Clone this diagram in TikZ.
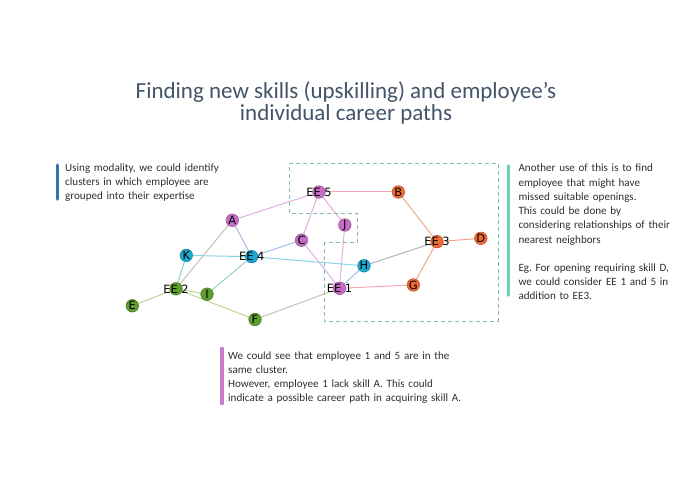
\documentclass[tikz,border=0pt]{standalone}
\usepackage{fontspec}
\setmainfont{Carlito}
\newfontfamily\dejavu{DejaVu Sans}
\usetikzlibrary{backgrounds}
\frenchspacing
\definecolor{cpur}{HTML}{C66CC6}
\definecolor{corg}{HTML}{F06A35}
\definecolor{cblu}{HTML}{1AA8D0}
\definecolor{cgrn}{HTML}{5E9E30}
\definecolor{epp}{HTML}{E0B0E0}
\definecolor{eoo}{HTML}{F5A888}
\definecolor{epo}{HTML}{F2AAB2}
\definecolor{ebb}{HTML}{88D4EA}
\definecolor{ebp}{HTML}{A4BCE4}
\definecolor{eob}{HTML}{B0B8B8}
\definecolor{egg}{HTML}{BCD894}
\definecolor{egb}{HTML}{94D0C4}
\definecolor{egp}{HTML}{CCC0B2}
\definecolor{titlec}{HTML}{44546A}
\definecolor{bodyc}{HTML}{303030}
\definecolor{dashc}{HTML}{7FBFB0}
\definecolor{barblue}{HTML}{2E75B6}
\definecolor{barteal}{HTML}{5FD8B0}
\definecolor{barpur}{HTML}{C87AC8}
\begin{document}
\begin{tikzpicture}[x=1pt,y=-1pt,
  vtx/.style={circle, minimum size=12.6pt, inner sep=0pt, line width=0.5pt},
  pur/.style={vtx, fill=cpur, draw=cpur!75!black},
  org/.style={vtx, fill=corg, draw=corg!75!black},
  blu/.style={vtx, fill=cblu, draw=cblu!75!black},
  grn/.style={vtx, fill=cgrn, draw=cgrn!75!black},
  lbl/.style={font=\dejavu\fontsize{11.4}{12}\selectfont, text=black, inner sep=0pt},
  edge/.style={line width=1pt},
  bodytext/.style={font=\fontsize{11.1}{14.2}\selectfont, text=bodyc, align=left, text width=200pt, inner sep=0pt, anchor=base west},
  bar/.style={line width=3.6pt, line cap=round},
  boxline/.style={draw=dashc, line width=1pt, dash pattern=on 4pt off 3pt}
]
\begin{pgfonlayer}{background}
\fill[white] (0,0) rectangle (695,494);
\end{pgfonlayer}
\useasboundingbox (0,0) rectangle (695,494);

% title
\node[font=\fontsize{23}{22.5}\selectfont, text=titlec, align=center] (title) at (346,103)
  {Finding new skills (upskilling) and employee’s\\individual career paths};

% text blocks and bars
\draw[bar, barblue] (57.5,165.2) -- (57.5,199);
\node[bodytext] (ltext) at (65,171.5)
  {Using modality, we could identify\\clusters in which employee are\\grouped into their expertise};

\draw[bar, barteal] (508.4,166) -- (508.4,295);
\node[bodytext] (rtext) at (518.3,172)
  {Another use of this is to find\\employee that might have\\missed suitable openings.\\This could be done by\\considering relationships of their\\nearest neighbors\\[14.2pt]Eg. For opening requiring skill D,\\we could consider EE 1 and 5 in\\addition to EE3.};

\draw[bar, barpur] (221.7,348.5) -- (221.7,403.5);
\node[bodytext, text width=280pt] (btext) at (228,359.3)
  {We could see that employee 1 and 5 are in the\\same cluster.\\However, employee 1 lack skill A. This could\\indicate a possible career path in acquiring skill A.};

% dashed cluster outline
\draw[boxline] (289,163.3) -- (498.3,163.3) -- (498.3,321) -- (324.6,321) -- (324.6,242.7)
  -- (357,242.7) -- (357,213.3) -- (289,213.3) -- cycle;

% nodes
\node[pur, label={[lbl]center:EE 5}] (ee5) at (319,192) {};
\node[org, label={[lbl]center:B}] (b) at (398.3,192) {};
\node[pur, label={[lbl]center:A}] (a) at (232.3,220.3) {};
\node[pur, label={[lbl]center:J}] (j) at (344.8,225) {};
\node[pur, label={[lbl]center:C}] (c) at (301.5,240.2) {};
\node[org, label={[lbl]center:EE 3}] (ee3) at (437,241.7) {};
\node[org, label={[lbl]center:D}] (d) at (480.8,238.3) {};
\node[blu, label={[lbl]center:K}] (k) at (186.3,255.4) {};
\node[blu, label={[lbl]center:EE 4}] (ee4) at (251.7,256.7) {};
\node[blu, label={[lbl]center:H}] (h) at (364,265.8) {};
\node[grn, label={[lbl]center:EE 2}] (ee2) at (176,288.8) {};
\node[grn, label={[lbl]center:I}] (i) at (207,294.2) {};
\node[pur, label={[lbl]center:EE 1}] (ee1) at (339.5,288.3) {};
\node[org, label={[lbl]center:G}] (g) at (413.3,285) {};
\node[grn, label={[lbl]center:E}] (e) at (132.3,305.8) {};
\node[grn, label={[lbl]center:F}] (f) at (255,319.5) {};

% edges
\begin{pgfonlayer}{background}
\draw[edge, epo] (ee5) -- (b);
\draw[edge, epp] (ee5) -- (a);
\draw[edge, epp] (ee5) -- (c);
\draw[edge, epp] (ee5) -- (j);
\draw[edge, eoo] (b) -- (ee3);
\draw[edge, eoo] (ee3) -- (d);
\draw[edge, eoo] (ee3) -- (g);
\draw[edge, eob] (ee3) -- (h);
\draw[edge, ebp] (h) -- (ee1);
\draw[edge, epo] (g) -- (ee1);
\draw[edge, epp] (j) -- (ee1);
\draw[edge, epp] (c) -- (ee1);
\draw[edge, ebp] (c) -- (ee4);
\draw[edge, ebp] (a) -- (ee4);
\draw[edge, egp] (a) -- (ee2);
\draw[edge, ebb] (k) -- (ee4);
\draw[edge, ebb] (ee4) -- (h);
\draw[edge, egb] (k) -- (ee2);
\draw[edge, egb] (ee4) -- (i);
\draw[edge, egg] (ee2) -- (i);
\draw[edge, egg] (ee2) -- (e);
\draw[edge, egg] (ee2) -- (f);
\draw[edge, egp] (f) -- (ee1);
\end{pgfonlayer}
\end{tikzpicture}
\end{document}
